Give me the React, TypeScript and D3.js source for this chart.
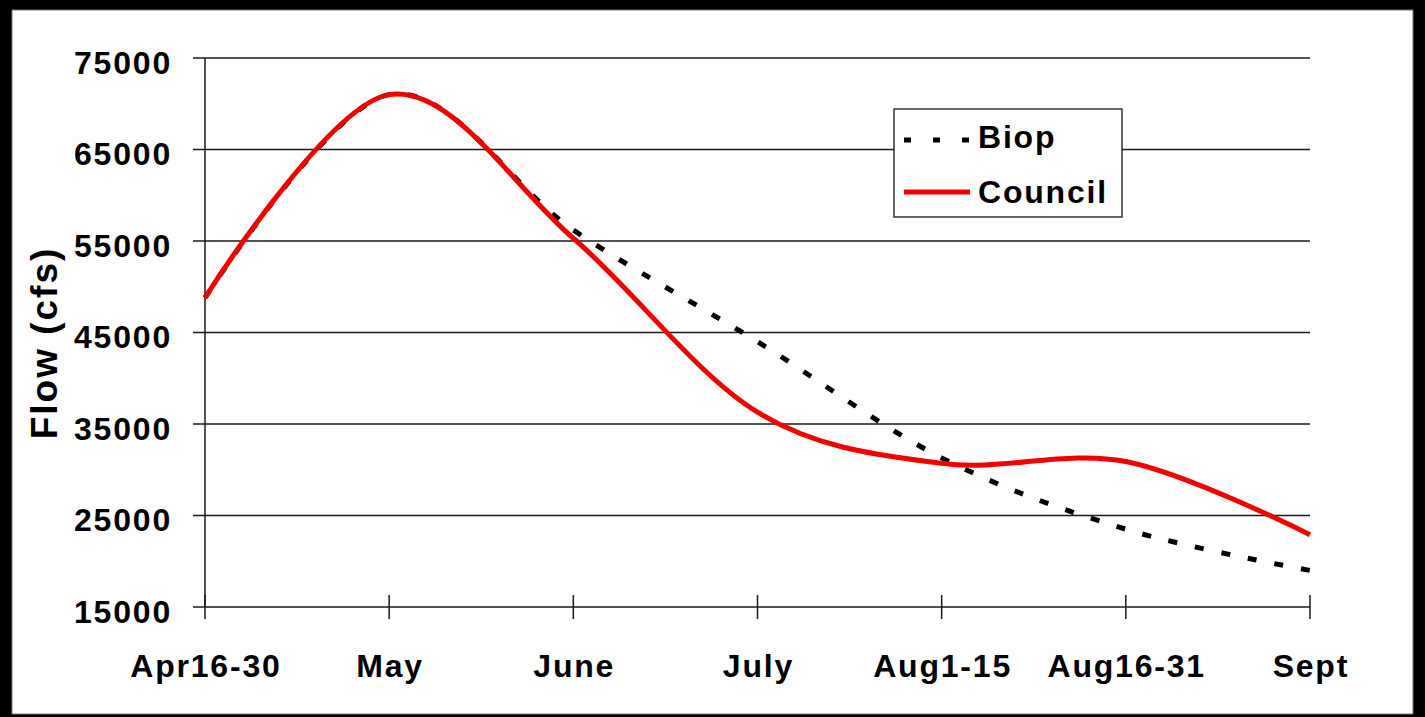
import React from "react";
import * as d3 from "d3";

const categories = ["Apr16-30", "May", "June", "July", "Aug1-15", "Aug16-31", "Sept"];
const biopValues = [48800, 71000, 56200, 44000, 31300, 23500, 19000];
const councilValues = [48800, 71000, 55300, 36300, 30700, 30900, 22900];
const yTicks = [15000, 25000, 35000, 45000, 55000, 65000, 75000];
const seriesNames = ["Biop", "Council"];

const W = 1425;
const H = 717;
const FONT = "'Liberation Sans', Arial, sans-serif";
const FS = 32;
const LS = 1.8;
const RED = "#f20000";

export default function App() {
  const x = d3.scalePoint<string>().domain(categories).range([205, 1310]);
  const y = d3.scaleLinear().domain([15000, 75000]).range([607, 58]);
  const line = d3
    .line<number>()
    .x((_, i) => x(categories[i]) as number)
    .y((d) => y(d))
    .curve(d3.curveCardinal.tension(0));

  const textProps = {
    fontFamily: FONT,
    fontWeight: "bold" as const,
    fontSize: FS,
    letterSpacing: LS,
    fill: "#000",
  };

  return (
    <svg
      width={W}
      height={H}
      style={{ position: "absolute", left: 0, top: 0, display: "block" }}
    >
      <rect x={0} y={0} width={W} height={H} fill="#000" />
      <rect x={12} y={10} width={1401} height={704} fill="#fff" stroke="#777" strokeWidth={1} />

      {/* gridlines */}
      {yTicks.map((t) => (
        <line key={t} x1={193} x2={1310} y1={y(t)} y2={y(t)} stroke="#1a1a1a" strokeWidth={1.5} />
      ))}
      {/* y axis */}
      <line x1={205} x2={205} y1={y(75000)} y2={y(15000)} stroke="#1a1a1a" strokeWidth={1.5} />
      {/* x ticks */}
      {categories.map((c) => (
        <line key={c} x1={x(c)} x2={x(c)} y1={595} y2={619} stroke="#1a1a1a" strokeWidth={1.5} />
      ))}
      {/* y tick labels */}
      {yTicks.map((t) => (
        <text key={t} x={172} y={y(t) + 15.5} textAnchor="end" {...textProps}>
          {t}
        </text>
      ))}
      {/* x labels */}
      {categories.map((c) => (
        <text key={c} x={(x(c) as number) + LS / 2} y={677} textAnchor="middle" {...textProps}>
          {c}
        </text>
      ))}
      {/* y label */}
      <text
        transform="translate(57,343) rotate(-90)"
        textAnchor="middle"
        {...textProps}
        fontSize={37}
        letterSpacing={2}
      >
        Flow (cfs)
      </text>

      {/* series */}
      <path d={line(biopValues) || ""} fill="none" stroke="#000" strokeWidth={5} strokeDasharray="9 18" />
      <path d={line(councilValues) || ""} fill="none" stroke={RED} strokeWidth={5} />

      {/* legend */}
      <rect x={894} y={109} width={228} height={108} fill="#fff" stroke="#333" strokeWidth={1.5} />
      <line x1={904} x2={970} y1={140} y2={140} stroke="#000" strokeWidth={5} strokeDasharray="7 22" />
      <text x={978} y={148} {...textProps}>
        {seriesNames[0]}
      </text>
      <line x1={904} x2={970} y1={192} y2={192} stroke={RED} strokeWidth={5} />
      <text x={978} y={203} {...textProps}>
        {seriesNames[1]}
      </text>
    </svg>
  );
}
